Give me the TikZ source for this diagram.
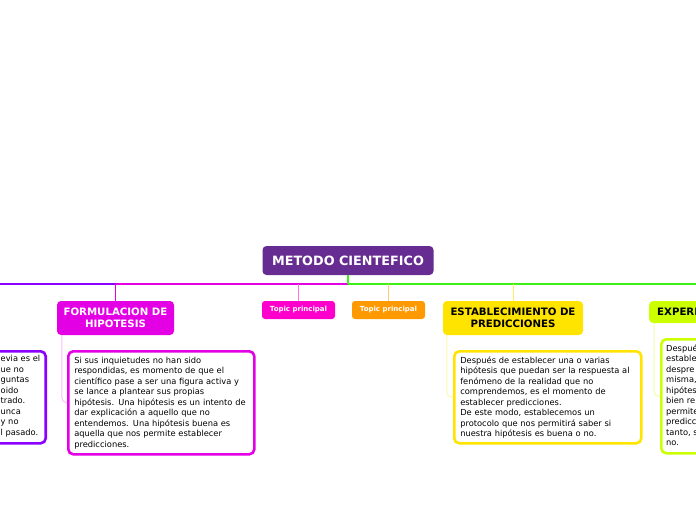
\documentclass[tikz,border=0pt]{standalone}
\usepackage{fontspec}
\setmainfont{DejaVu Sans}
\definecolor{mainpurple}{RGB}{102,44,145}
\definecolor{violetc}{RGB}{140,0,255}
\definecolor{magc}{RGB}{228,0,228}
\definecolor{pinkc}{RGB}{255,0,204}
\definecolor{orangec}{RGB}{255,153,0}
\definecolor{yellowc}{RGB}{255,228,0}
\definecolor{greenc}{RGB}{60,240,20}
\definecolor{limec}{RGB}{204,255,0}
\begin{document}
\begin{tikzpicture}[x=1pt,y=-1pt,
  hdr/.style={rounded corners=4pt, inner sep=0pt, align=center, font=\bfseries\fontsize{10.2}{12}\selectfont},
  topicbox/.style={rounded corners=3pt, inner sep=0pt, text=white, minimum width=73pt, minimum height=18pt, font=\bfseries\fontsize{7}{8}\selectfont},
  desc/.style={draw, line width=2.6pt, rounded corners=5pt, fill=white, inner sep=0pt, font=\fontsize{8.3}{10.5}\selectfont, align=left},
  bodytext/.style={inner sep=0pt, font=\fontsize{8.3}{10.5}\selectfont, align=left},
  mainline/.style={line width=2pt},
  stem/.style={line width=1pt},
  descline/.style={line width=1pt, rounded corners=5pt}]
\useasboundingbox (0,0) rectangle (696,520);
\clip (0,0) rectangle (696,520);

% headers
\node[hdr, fill=mainpurple, text=white, minimum width=171pt, minimum height=29pt, font=\bfseries\fontsize{12.8}{14}\selectfont] (main) at (348,260.5) {METODO CIENTEFICO};
\node[hdr, fill=magc, text=white, minimum width=117pt, minimum height=34pt] (formul) at (115.5,318) {FORMULACION DE\\HIPOTESIS};
\node[topicbox, fill=pinkc] (topica) at (298.5,310) {Topic principal};
\node[topicbox, fill=orangec] (topicb) at (388.5,310) {Topic principal};
\node[hdr, fill=yellowc, text=black, minimum width=140pt, minimum height=34pt] (estab) at (513,318) {ESTABLECIMIENTO DE\\PREDICCIONES};
\node[hdr, fill=limec, anchor=west, minimum height=22pt, minimum width=120pt] (exper) at (649,312) {};
\node[inner sep=0pt, anchor=west, font=\bfseries\fontsize{10.2}{12}\selectfont] (expertext) at (657,312) {EXPERI};

% description boxes
\node[desc, draw=violetc, minimum width=147pt, minimum height=92pt, anchor=north east] (obsdesc) at (47,350) {};
\node[bodytext, anchor=west] (obstext) at (0.5,396) {evia es el\\ue no\\guntas\\oido\\trado.\\unca\\y no\\l pasado.};

\node[desc, draw=magc, minimum width=186pt, minimum height=103pt, text width=174pt, anchor=north west] (formdesc) at (67,350) {Si sus inquietudes no han sido\\respondidas, es momento de que el\\científico pase a ser una figura activa y\\se lance a plantear sus propias\\hipótesis. Una hipótesis es un intento de\\dar explicación a aquello que no\\entendemos. Una hipótesis buena es\\aquella que nos permite establecer\\predicciones.};

\node[desc, draw=yellowc, minimum width=187pt, minimum height=92pt, text width=175pt, anchor=north west] (estabdesc) at (453,350) {Después de establecer una o varias\\hipótesis que puedan ser la respuesta al\\fenómeno de la realidad que no\\comprendemos, es el momento de\\establecer predicciones.\\De este modo, establecemos un\\protocolo que nos permitirá saber si\\nuestra hipótesis es buena o no.};

\node[desc, draw=limec, minimum width=150pt, minimum height=114pt, anchor=north west] (experdesc) at (660,338) {};
\node[bodytext, anchor=west] (expertxt) at (666,395) {Despué\\estable\\despre\\misma,\\hipótes\\bien re\\permite\\predicc\\tanto, s\\no.};

% connectors
\coordinate (hub) at (348,284);
\coordinate (leftend) at (-2,284);
\coordinate (rightend) at (698,284);
\draw[mainline, violetc] (hub) -- (leftend);
\draw[mainline, magc] (hub) -- (formul.north |- hub);
\draw[mainline, greenc] (hub) -- (rightend);
\draw[mainline, greenc] (main.south) -- (hub);
\draw[stem, magc] (formul.north |- hub) -- (formul.north);
\draw[line width=1.6pt, pinkc!55] (topica.north |- hub) -- (topica.north);
\draw[line width=1.3pt, orangec!55] (topicb.north |- hub) -- (topicb.north);
\draw[stem, yellowc!60] (estab.north |- hub) -- (estab.north);

\draw[descline, magc!25] ([xshift=5pt]formul.south west) |- (formdesc.west);
\draw[descline, yellowc!30] ([xshift=4pt]estab.south west) |- (estabdesc.west);
\draw[descline, limec!35] ([xshift=5pt]exper.south west) |- (experdesc.west);
\end{tikzpicture}
\end{document}
